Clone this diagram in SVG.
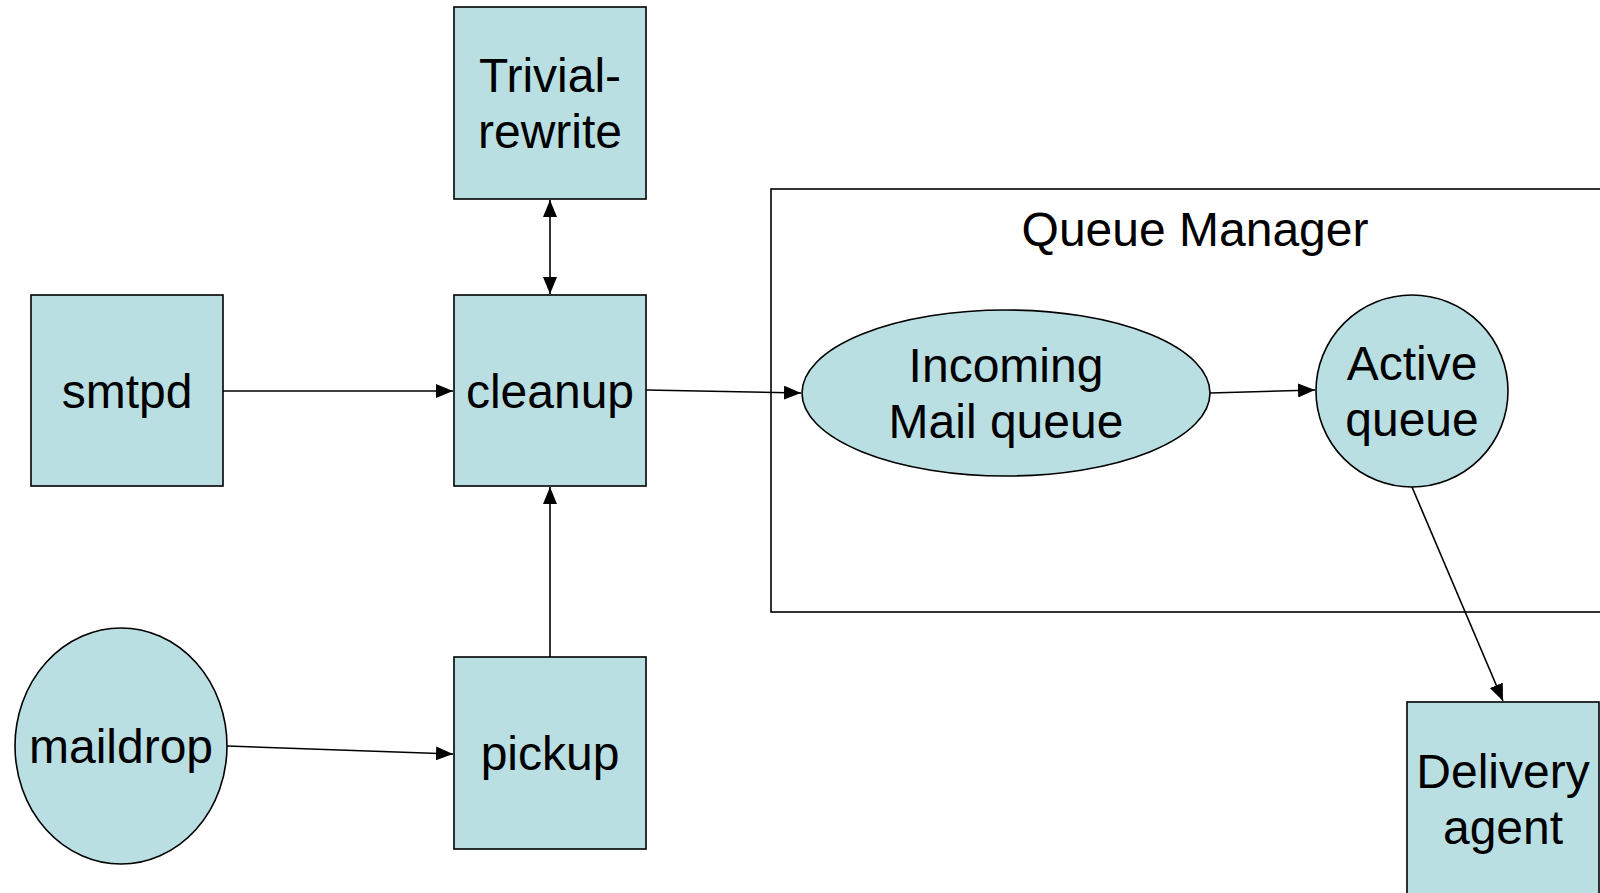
<svg xmlns="http://www.w3.org/2000/svg" width="1600" height="893" viewBox="0 0 1600 893">
<style>
.n{fill:#BADFE3;stroke:#000;stroke-width:1.6}
.t{font-family:"Liberation Sans",Arial,sans-serif;font-size:48px;fill:#000;text-anchor:middle}
.c{fill:none;stroke:#000;stroke-width:1.6}
</style>
<defs>
<marker id="ah" markerUnits="userSpaceOnUse" markerWidth="18" markerHeight="14" refX="17" refY="7" orient="auto-start-reverse">
<path d="M0,0 L17,7 L0,14 Z" fill="#000"/>
</marker>
</defs>
<rect width="1600" height="893" fill="#fff"/>
<g id="queue-manager">
<rect x="771" y="189" width="840" height="423" fill="none" stroke="#000" stroke-width="1.6"/>
<text class="t" x="1195" y="246">Queue Manager</text>
</g>
<g id="trivial-rewrite">
<rect class="n" x="454" y="7" width="192" height="192"/>
<text class="t" x="550" y="92">Trivial-</text>
<text class="t" x="550" y="148">rewrite</text>
</g>
<g id="smtpd">
<rect class="n" x="31" y="295" width="192" height="191"/>
<text class="t" x="127" y="408">smtpd</text>
</g>
<g id="cleanup">
<rect class="n" x="454" y="295" width="192" height="191"/>
<text class="t" x="550" y="408">cleanup</text>
</g>
<g id="maildrop">
<ellipse class="n" cx="121" cy="746" rx="106" ry="118"/>
<text class="t" x="121" y="763">maildrop</text>
</g>
<g id="pickup">
<rect class="n" x="454" y="657" width="192" height="192"/>
<text class="t" x="550" y="770">pickup</text>
</g>
<g id="incoming">
<ellipse class="n" cx="1006" cy="393" rx="204" ry="83"/>
<text class="t" x="1006" y="382">Incoming</text>
<text class="t" x="1006" y="438">Mail queue</text>
</g>
<g id="active">
<ellipse class="n" cx="1412" cy="391" rx="96" ry="96"/>
<text class="t" x="1412" y="380">Active</text>
<text class="t" x="1412" y="436">queue</text>
</g>
<g id="delivery">
<rect class="n" x="1407" y="702" width="192" height="200"/>
<text class="t" x="1503" y="788">Delivery</text>
<text class="t" x="1503" y="844">agent</text>
</g>
<g id="connectors">
<line class="c" x1="550" y1="200" x2="550" y2="294" marker-start="url(#ah)" marker-end="url(#ah)"/>
<line class="c" x1="223" y1="391" x2="453" y2="391" marker-end="url(#ah)"/>
<line class="c" x1="646" y1="390" x2="801" y2="393" marker-end="url(#ah)"/>
<line class="c" x1="1210" y1="393" x2="1315" y2="390" marker-end="url(#ah)"/>
<line class="c" x1="1412" y1="487" x2="1503" y2="701" marker-end="url(#ah)"/>
<line class="c" x1="550" y1="657" x2="550" y2="487" marker-end="url(#ah)"/>
<line class="c" x1="227" y1="746" x2="453" y2="754" marker-end="url(#ah)"/>
</g>
</svg>
